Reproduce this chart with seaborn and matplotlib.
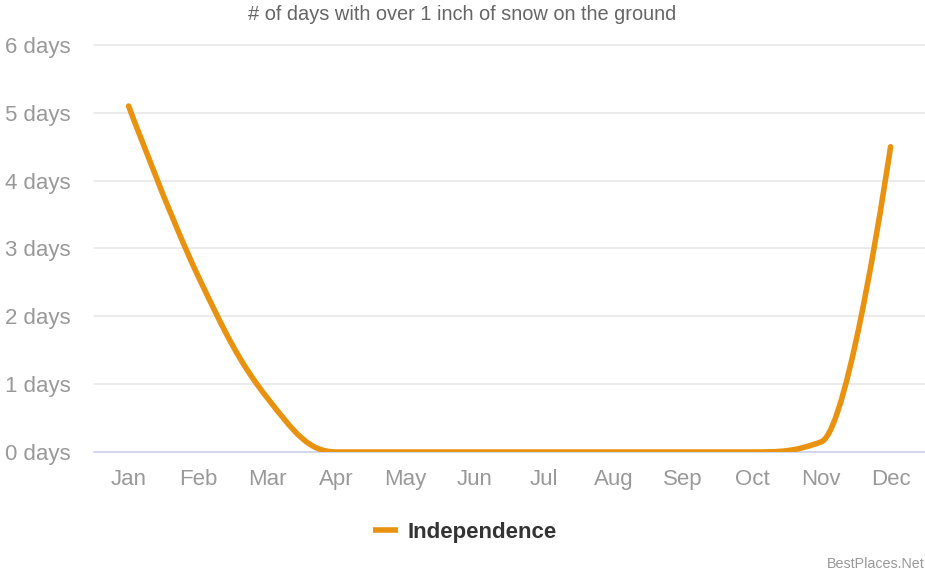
import numpy as np
import matplotlib
matplotlib.use("Agg")
import matplotlib.pyplot as plt
from matplotlib.path import Path
from matplotlib.patches import PathPatch
from matplotlib.lines import Line2D
import seaborn as sns

months = ["Jan", "Feb", "Mar", "Apr", "May", "Jun",
          "Jul", "Aug", "Sep", "Oct", "Nov", "Dec"]
snow_days = [5.1, 2.6, 0.8, 0.0, 0.0, 0.0, 0.0, 0.0, 0.0, 0.0, 0.15, 4.5]
y_ticks = [0, 1, 2, 3, 4, 5, 6]
y_labels = [f"{t} days" for t in y_ticks]
series_name = "Independence"
title = "# of days with over 1 inch of snow on the ground"

LINE_COLOR = "#E8920F"
GRID_COLOR = "#E6E6E6"
AXIS_COLOR = "#CCD6EB"
TICK_COLOR = "#999999"

sns.set_theme(style="white")
plt.rcParams["font.family"] = ["Liberation Sans", "DejaVu Sans"]


def spline_path(xs, ys, smoothing=1.5):
    # highcharts-style spline: bezier control points around each point
    n = len(xs)
    left = [None] * n
    right = [None] * n
    d = smoothing + 1
    for i in range(1, n - 1):
        px, py = xs[i], ys[i]
        lx, ly = xs[i - 1], ys[i - 1]
        nx, ny = xs[i + 1], ys[i + 1]
        lcx, lcy = (smoothing * px + lx) / d, (smoothing * py + ly) / d
        rcx, rcy = (smoothing * px + nx) / d, (smoothing * py + ny) / d
        corr = ((rcy - lcy) * (rcx - px)) / (rcx - lcx) + py - rcy
        lcy += corr
        rcy += corr
        if lcy > max(ly, py):
            lcy = max(ly, py)
            rcy = 2 * py - lcy
        elif lcy < min(ly, py):
            lcy = min(ly, py)
            rcy = 2 * py - lcy
        if rcy > max(ny, py):
            rcy = max(ny, py)
            lcy = 2 * py - rcy
        elif rcy < min(ny, py):
            rcy = min(ny, py)
            lcy = 2 * py - rcy
        left[i] = (lcx, lcy)
        right[i] = (rcx, rcy)
    verts = [(xs[0], ys[0])]
    codes = [Path.MOVETO]
    for i in range(1, n):
        c1 = right[i - 1] or (xs[i - 1], ys[i - 1])
        c2 = left[i] or (xs[i], ys[i])
        verts += [c1, c2, (xs[i], ys[i])]
        codes += [Path.CURVE4] * 3
    return Path(verts, codes)


fig = plt.figure(figsize=(9.25, 5.71), dpi=100)
ax = fig.add_axes([0.1016, 0.2084, 0.8986, 0.7128])

x = np.arange(len(months))
ax.add_patch(PathPatch(spline_path(x, snow_days), fill=False,
                       edgecolor=LINE_COLOR, linewidth=4,
                       capstyle="round", joinstyle="round", zorder=3))

ax.set_xlim(-0.5, len(months) - 0.5)
ax.set_ylim(0, 6)
ax.set_xticks(x)
ax.set_xticklabels(months)
ax.set_yticks(y_ticks)
ax.set_yticklabels(y_labels)
ax.tick_params(axis="x", length=0, pad=12, labelsize=16, labelcolor=TICK_COLOR)
ax.tick_params(axis="y", length=0, pad=17, labelsize=16, labelcolor=TICK_COLOR)
for lab in ax.get_yticklabels():
    lab.set_horizontalalignment("right")

for t in y_ticks[1:]:
    ax.axhline(t, color=GRID_COLOR, linewidth=1.1, zorder=1, clip_on=False)
ax.axhline(0, color=AXIS_COLOR, linewidth=1.3, zorder=2, clip_on=False)
sns.despine(ax=ax, left=True, bottom=True)

fig.text(0.5, 0.974, title, ha="center", va="center",
         fontsize=14.4, color="#666666")

handle = Line2D([0], [0], color=LINE_COLOR, linewidth=4, solid_capstyle="butt")
fig.legend([handle], [series_name], loc="center",
           bbox_to_anchor=(0.503, 0.068), frameon=False,
           handlelength=1.1, handletextpad=0.45,
           prop={"size": 16, "weight": "bold"}, labelcolor="#333333")

fig.text(1.0, 0.012, "BestPlaces.Net", ha="right", va="center",
         fontsize=10.3, color="#999999")

fig.savefig("out.png", dpi=100)
